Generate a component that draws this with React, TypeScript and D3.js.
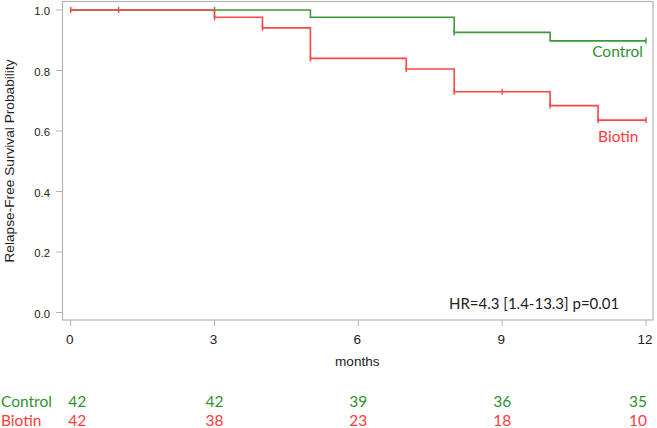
import React, { useEffect, useRef } from 'react';
import * as d3 from 'd3';

// x axis ticks (months)
const monthTicks = [0, 3, 6, 9, 12];
const probTicks = [0, 0.2, 0.4, 0.6, 0.8, 1.0];

// Kaplan-Meier steps: time of change and survival after it
const controlTimes = [0, 5, 8, 10, 12];
const controlSurv = [1.0, 0.976, 0.926, 0.898, 0.898];
const controlCensor = [3, 8, 12];

const biotinTimes = [0, 3, 4, 5, 7, 8, 10, 11, 12];
const biotinSurv = [1.0, 0.976, 0.941, 0.84, 0.805, 0.73, 0.684, 0.636, 0.636];
const biotinCensor = [0, 1, 3, 4, 5, 7, 8, 9, 10, 11, 12];

// numbers at risk
const controlRisk = [42, 42, 39, 36, 35];
const biotinRisk = [42, 38, 23, 18, 10];

const hrText = 'HR=4.3 [1.4-13.3] p=0.01';

const GREEN = '#3a9a3a';
const GREEN_TXT = '#2f922f';
const RED = '#ff4545';
const RED_TXT = '#ff3b3b';
const FRAME = '#b4b4b4';
const SAS_FONT = '"Liberation Sans", Arial, sans-serif';
const NARROW_FONT = '"Liberation Sans Narrow", "Arial Narrow", "Liberation Sans", sans-serif';
const LABEL_FONT = 'Lato, "Open Sans", sans-serif';

const survAt = (times: number[], surv: number[], t: number) => {
  let s = surv[0];
  times.forEach((tt, i) => { if (tt <= t) s = surv[i]; });
  return s;
};

const KMChart = () => {
  const ref = useRef<SVGSVGElement>(null);

  useEffect(() => {
    const svg = d3.select(ref.current);
    svg.selectAll('*').remove();

    // plot frame
    const frame = { left: 62.5, right: 653, top: 1.5, bottom: 320 };
    const x = d3.scaleLinear().domain([0, 12]).range([70.7, 646]);
    const y = d3.scaleLinear().domain([0, 1]).range([312.5, 10]);

    svg.append('rect')
      .attr('x', frame.left)
      .attr('y', frame.top)
      .attr('width', frame.right - frame.left)
      .attr('height', frame.bottom - frame.top)
      .attr('fill', 'white')
      .attr('stroke', FRAME)
      .attr('stroke-width', 1.2);

    // y ticks
    const yt = svg.append('g');
    probTicks.forEach(v => {
      yt.append('line')
        .attr('x1', 56).attr('x2', frame.left)
        .attr('y1', y(v)).attr('y2', y(v))
        .attr('stroke', FRAME);
      yt.append('text')
        .attr('x', 50)
        .attr('y', y(v) + 5)
        .attr('text-anchor', 'end')
        .attr('font-family', SAS_FONT)
        .attr('font-size', 11.3)
        .attr('fill', '#222')
        .text(d3.format('.1f')(v));
    });

    // x ticks
    const xt = svg.append('g');
    monthTicks.forEach(m => {
      xt.append('line')
        .attr('x1', x(m)).attr('x2', x(m))
        .attr('y1', frame.bottom).attr('y2', frame.bottom + 6)
        .attr('stroke', FRAME);
      xt.append('text')
        .attr('x', x(m) - 1)
        .attr('y', 343.5)
        .attr('text-anchor', 'middle')
        .attr('font-family', NARROW_FONT)
        .attr('font-size', 13.5)
        .attr('fill', '#222')
        .text(m);
    });

    // axis titles
    svg.append('text')
      .attr('x', (x(0) + x(12)) / 2 - 1)
      .attr('y', 366)
      .attr('text-anchor', 'middle')
      .attr('font-family', SAS_FONT)
      .attr('font-size', 13.6)
      .attr('fill', '#222')
      .text('months');

    svg.append('text')
      .attr('transform', 'translate(14,161) rotate(-90)')
      .attr('text-anchor', 'middle')
      .attr('font-family', SAS_FONT)
      .attr('font-size', 13.7)
      .attr('fill', '#222')
      .text('Relapse-Free Survival Probability');

    // survival curves
    const line = d3.line<number>()
      .x(d => x(d[0]))
      .y(d => y(d[1]))
      .curve(d3.curveStepAfter);

    const drawCurve = (times: number[], surv: number[], censor: number[], color: string) => {
      const g = svg.append('g');
      g.append('path')
        .datum(times.map((t, i) => [t, surv[i]]))
        .attr('fill', 'none')
        .attr('stroke', color)
        .attr('stroke-width', 1.6)
        .attr('d', line as any);
      censor.forEach(t => {
        const s = survAt(times, surv, t);
        g.append('line')
          .attr('x1', x(t)).attr('x2', x(t))
          .attr('y1', y(s) - 3).attr('y2', y(s) + 3)
          .attr('stroke', color)
          .attr('stroke-width', 1.4);
      });
    };

    drawCurve(controlTimes, controlSurv, controlCensor, GREEN);
    drawCurve(biotinTimes, biotinSurv, biotinCensor, RED);

    // group labels
    svg.append('text')
      .attr('x', 643).attr('y', 56.7)
      .attr('text-anchor', 'end')
      .attr('font-family', LABEL_FONT)
      .attr('font-size', 15.5)
      .attr('fill', GREEN_TXT)
      .text('Control');
    svg.append('text')
      .attr('x', 638.5).attr('y', 141.7)
      .attr('text-anchor', 'end')
      .attr('font-family', LABEL_FONT)
      .attr('font-size', 15.5)
      .attr('fill', RED_TXT)
      .text('Biotin');

    svg.append('text')
      .attr('x', 449).attr('y', 309)
      .attr('font-family', LABEL_FONT)
      .attr('font-size', 15)
      .attr('fill', '#222')
      .text(hrText);

    // numbers at risk table
    const riskRow = (name: string, vals: number[], color: string, base: number) => {
      const g = svg.append('g')
        .attr('font-family', LABEL_FONT)
        .attr('font-size', 15.5)
        .attr('fill', color);
      g.append('text').attr('x', 1).attr('y', base).text(name);
      vals.forEach((v, i) => {
        const last = i === vals.length - 1;
        g.append('text')
          .attr('x', i === 0 ? x(monthTicks[i]) - 2.5 : last ? x(monthTicks[i]) + 1 : x(monthTicks[i]))
          .attr('y', base)
          .attr('text-anchor', i === 0 ? 'start' : last ? 'end' : 'middle')
          .text(v);
      });
    };
    riskRow('Control', controlRisk, GREEN_TXT, 406.7);
    riskRow('Biotin', biotinRisk, RED_TXT, 425.5);

    return () => { svg.selectAll('*').remove(); };
  }, []);

  return (
    <svg ref={ref} width={657} height={428}
      style={{ position: 'absolute', left: 0, top: 0, background: 'white' }} />
  );
};

export default function App() {
  return <KMChart />;
}
